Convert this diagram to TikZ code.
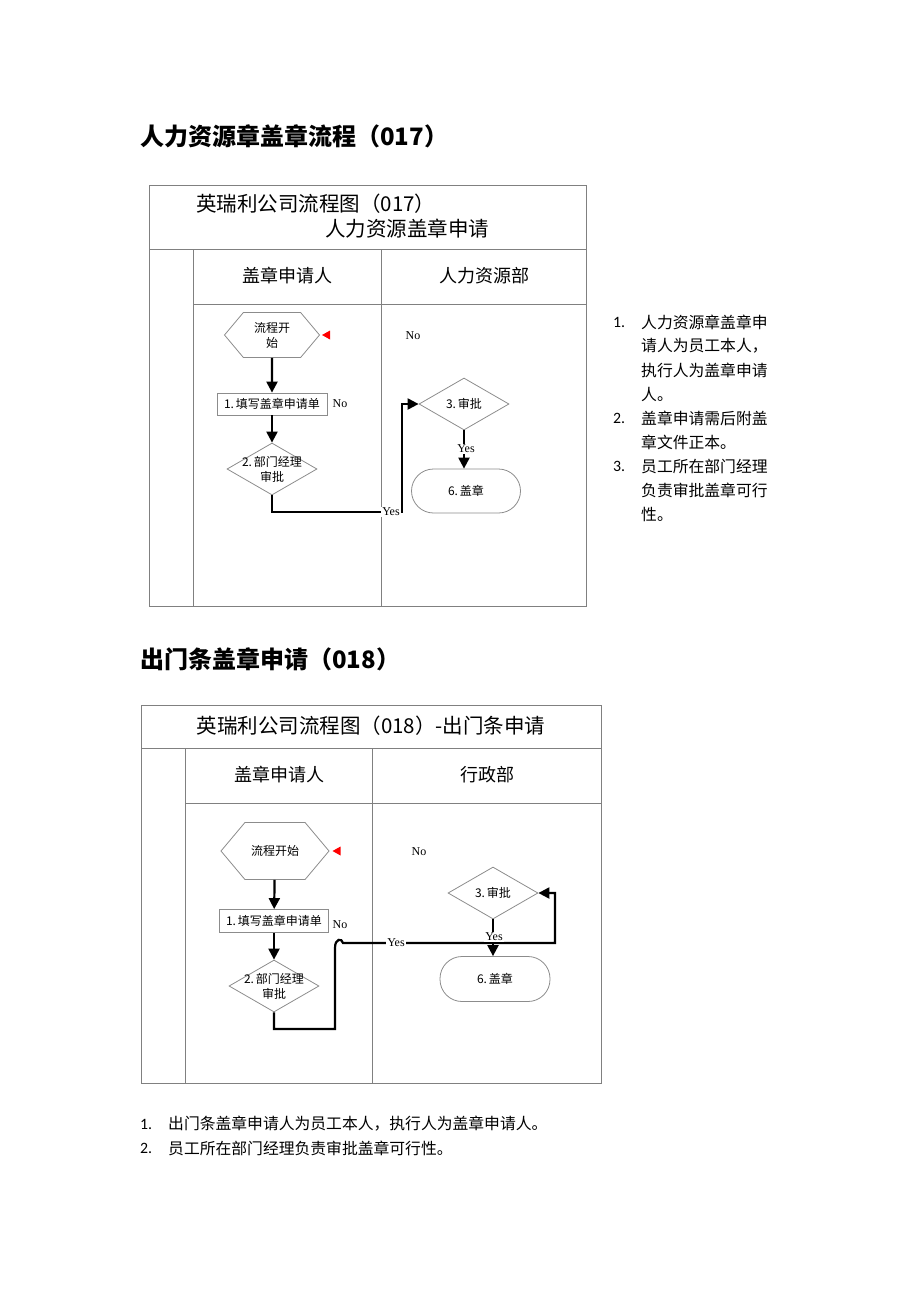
\documentclass[tikz,border=0pt]{standalone}
\usepackage{fontspec}
\setmainfont{Liberation Serif}
\newfontfamily\cjk{Noto Sans CJK SC}
\newfontfamily\notefont{Carlito}
\usetikzlibrary{shapes.geometric,shapes.symbols,arrows.meta}
\tikzstyle{laneline} = [draw=black!50, line width=1pt]
\tikzstyle{headtext} = [anchor=west, inner sep=0pt, font=\cjk\bfseries\fontsize{24}{28}\selectfont]
\tikzstyle{titletext} = [inner sep=0pt, font=\cjk\fontsize{20.5}{24}\selectfont]
\tikzstyle{lanetext} = [inner sep=0pt, font=\cjk\fontsize{18}{22}\selectfont]
\tikzstyle{hexnode} = [shape=signal, signal to=west and east, signal pointer angle=100, draw=black!45, line width=0.8pt, align=center, inner sep=1pt, font=\cjk\fontsize{12}{15}\selectfont]
\tikzstyle{boxnode} = [rectangle, draw=black!45, line width=0.8pt, inner sep=2pt, font=\cjk\fontsize{12}{15}\selectfont]
\tikzstyle{decnode} = [diamond, draw=black!45, line width=0.8pt, inner sep=0pt, minimum width=90pt, minimum height=52pt]
\tikzstyle{termnode} = [rectangle, rounded corners=22pt, draw=black!45, line width=0.8pt, minimum width=109pt, minimum height=44pt, font=\cjk\fontsize{12}{15}\selectfont]
\tikzstyle{flowline} = [line width=2.2pt, -{Triangle[length=11pt,width=11pt]}]
\tikzstyle{flowlabel} = [fill=white, inner sep=1pt, font=\fontsize{12}{14}\selectfont]
\tikzstyle{notetext} = [anchor=west, inner sep=0pt, font=\cjk\fontsize{15.8}{19}\selectfont]
\tikzstyle{notenum} = [anchor=west, inner sep=0pt, font=\notefont\fontsize{15.8}{19}\selectfont]

\begin{document}
\begin{tikzpicture}[x=1pt, y=-1pt]
\useasboundingbox (0,0) rectangle (920,1302);

% ---- 017 ----
\node[headtext] (headA) at (140,136) {人力资源章盖章流程（017）};

\draw[laneline] (149,185) rectangle (586,606);
\draw[laneline] (149,249) -- (586,249);
\draw[laneline] (193,249) -- (193,606);
\draw[laneline] (381,249) -- (381,606);
\draw[laneline] (193,304) -- (586,304);

\node[titletext, anchor=west] (titleA1) at (196,204) {英瑞利公司流程图（017）};
\node[titletext, anchor=west] (titleA2) at (325,229) {人力资源盖章申请};
\node[lanetext] (laneA1) at (287,276) {盖章申请人};
\node[lanetext] (laneA2) at (484,276) {人力资源部};

\node[hexnode, minimum width=95pt, minimum height=45pt] (startA) at (272,335) {流程开\\始};
\fill[red] ([xshift=2pt]startA.east) -- ++(8,-4.5) -- ++(0,9) -- cycle;
\node[boxnode, minimum width=110pt, minimum height=22pt] (fillA) at (272,404) {1.\,填写盖章申请单};
\node[flowlabel] (noA1) at (340,404) {No};
\node[decnode, label={[align=center, font=\cjk\fontsize{12}{15}\selectfont]center:2.\,部门经理\\审批}] (mgrA) at (272,469) {};
\node[decnode] (checkA) at (464,404) {};
\node[font=\cjk\fontsize{12}{15}\selectfont] (checkAtext) at (464,404) {3.\,审批};
\node[flowlabel] (noA2) at (413,336) {No};
\node[termnode] (sealA) at (466,491) {6.\,盖章};
\coordinate (bendA) at (402,512);

\draw[flowline] (startA) -- (fillA);
\draw[flowline] (fillA) -- (mgrA);
\draw[flowline] (mgrA.south) |- (bendA) |- (checkA.west);
\node[flowlabel] (yesA1) at (391,512) {Yes};
\draw[flowline] (checkA) -- (checkA |- sealA.north);
\node[flowlabel] (yesA2) at (466,449) {Yes};

\node[notenum] (numA1) at (613,322) {1.};
\node[notetext] (noteA1) at (641,322) {人力资源章盖章申};
\node[notetext] (noteA2) at (641,346) {请人为员工本人，};
\node[notetext] (noteA3) at (641,370) {执行人为盖章申请};
\node[notetext] (noteA4) at (641,394) {人。};
\node[notenum] (numA2) at (613,418) {2.};
\node[notetext] (noteA5) at (641,418) {盖章申请需后附盖};
\node[notetext] (noteA6) at (641,442) {章文件正本。};
\node[notenum] (numA3) at (613,466) {3.};
\node[notetext] (noteA7) at (641,466) {员工所在部门经理};
\node[notetext] (noteA8) at (641,490) {负责审批盖章可行};
\node[notetext] (noteA9) at (641,514) {性。};

% ---- 018 ----
\node[headtext] (headB) at (140,659) {出门条盖章申请（018）};

\draw[laneline] (141,705) rectangle (601,1083);
\draw[laneline] (141,748) -- (601,748);
\draw[laneline] (185,748) -- (185,1083);
\draw[laneline] (372,748) -- (372,1083);
\draw[laneline] (185,803) -- (601,803);

\node[titletext] (titleB) at (371,726) {英瑞利公司流程图（018）-出门条申请};
\node[lanetext] (laneB1) at (279,775) {盖章申请人};
\node[lanetext] (laneB2) at (487,775) {行政部};

\node[hexnode, minimum width=108pt, minimum height=57pt] (startB) at (275,851) {流程开始};
\fill[red] ([xshift=3pt]startB.east) -- ++(8,-4.5) -- ++(0,9) -- cycle;
\node[boxnode, minimum width=109pt, minimum height=23pt] (fillB) at (274,921) {1.\,填写盖章申请单};
\node[flowlabel] (noB1) at (340,925) {No};
\node[decnode, label={[align=center, font=\cjk\fontsize{12}{15}\selectfont]center:2.\,部门经理\\审批}] (mgrB) at (274,986) {};
\node[decnode] (checkB) at (493,893) {};
\node[font=\cjk\fontsize{12}{15}\selectfont] (checkBtext) at (493,893) {3.\,审批};
\node[flowlabel] (noB2) at (419,852) {No};
\node[termnode, minimum width=110pt, minimum height=45pt] (sealB) at (495,979) {6.\,盖章};
\coordinate (bendB1) at (335,1029);
\coordinate (bendB2) at (555,943);

\draw[flowline] (startB) -- (fillB);
\draw[flowline] (fillB) -- (mgrB);
\draw[flowline] (mgrB.south) |- (bendB1) -- (335,948) .. controls (335,938) and (342,938) .. (343,943) -- (bendB2) |- (checkB.east);
\node[flowlabel] (yesB1) at (396,943) {Yes};
\draw[flowline] (checkB) -- (checkB |- sealB.north);
\node[flowlabel] (yesB2) at (494,937) {Yes};

\node[notenum] (numB1) at (140,1124) {1.};
\node[notetext] (noteB1) at (168,1124) {出门条盖章申请人为员工本人，执行人为盖章申请人。};
\node[notenum] (numB2) at (140,1148) {2.};
\node[notetext] (noteB2) at (168,1148) {员工所在部门经理负责审批盖章可行性。};
\end{tikzpicture}
\end{document}
